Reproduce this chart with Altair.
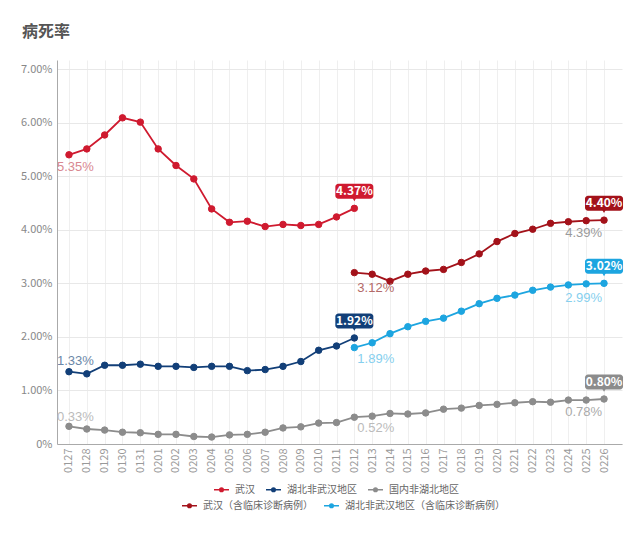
import altair as alt
import pandas as pd

dates = ["0127", "0128", "0129", "0130", "0131", "0201", "0202", "0203", "0204",
         "0205", "0206", "0207", "0208", "0209", "0210", "0211", "0212", "0213",
         "0214", "0215", "0216", "0217", "0218", "0219", "0220", "0221", "0222",
         "0223", "0224", "0225", "0226"]

series_a = ["武汉", "湖北非武汉地区", "国内非湖北地区"]
series_b = ["武汉（含临床诊断病例）", "湖北非武汉地区（含临床诊断病例）"]
colors_a = ["#cf1a2f", "#123f78", "#8c8c8c"]
colors_b = ["#a3121a", "#1da5e0"]

# 0127 - 0212
wuhan = [5.40, 5.51, 5.77, 6.09, 6.01, 5.51, 5.20, 4.95, 4.39, 4.14, 4.16, 4.06,
         4.10, 4.08, 4.10, 4.24, 4.40]
hubei = [1.35, 1.31, 1.47, 1.47, 1.49, 1.45, 1.45, 1.43, 1.45, 1.45, 1.37, 1.39,
         1.45, 1.54, 1.75, 1.83, 1.98]
# 0127 - 0226
nonhubei = [0.33, 0.28, 0.26, 0.22, 0.21, 0.18, 0.18, 0.14, 0.13, 0.17, 0.18, 0.22,
            0.30, 0.32, 0.39, 0.40, 0.50, 0.52, 0.57, 0.56, 0.58, 0.65, 0.67, 0.72,
            0.74, 0.77, 0.79, 0.78, 0.82, 0.82, 0.84]
# 0212 - 0226
wuhan_clin = [3.20, 3.17, 3.04, 3.17, 3.23, 3.26, 3.39, 3.55, 3.78, 3.93, 4.01,
              4.12, 4.15, 4.17, 4.18]
hubei_clin = [1.80, 1.89, 2.06, 2.19, 2.29, 2.35, 2.48, 2.62, 2.72, 2.78, 2.87,
              2.93, 2.97, 2.99, 3.00]

callout_texts = ["4.37%", "1.92%", "0.80%", "4.40%", "3.02%"]
note_texts = ["5.35%", "1.33%", "0.33%", "3.12%", "1.89%", "0.52%", "4.39%", "2.99%", "0.78%"]

rows = []
for name, vals, start in [(series_a[0], wuhan, 0), (series_a[1], hubei, 0),
                          (series_a[2], nonhubei, 0), (series_b[0], wuhan_clin, 16),
                          (series_b[1], hubei_clin, 16)]:
    for i, v in enumerate(vals):
        rows.append({"date": dates[start + i], "value": v, "series": name})
df = pd.DataFrame(rows)
dfA = df[df.series.isin(series_a)]
dfB = df[df.series.isin(series_b)]

xenc = alt.X("date:N", sort=dates,
             scale=alt.Scale(type="point", domain=dates, padding=0.84, align=0.4),
             axis=alt.Axis(title=None, labelAngle=270, labelFontSize=11, labelColor="#999",
                           labelPadding=4, ticks=False, domainColor="#aaa",
                           grid=True, gridColor="#efefef", labelBaseline="middle",
                           labelAlign="right"))
yenc = alt.Y("value:Q", scale=alt.Scale(domain=[0, 7.17], nice=False),
             axis=alt.Axis(title=None, values=[0, 1, 2, 3, 4, 5, 6, 7],
                           labelExpr="datum.value == 0 ? '0%' : format(datum.value, '.2f') + '%'",
                           labelFontSize=11, labelColor="#888", ticks=False,
                           domainColor="#aaa", gridColor="#e8e8e8", labelPadding=5))

sym = "M-1,0L1,0M-0.24,0A0.24,0.24,0,1,0,0.24,0A0.24,0.24,0,1,0,-0.24,0Z"


def legend(x, y):
    return alt.Legend(title=None, orient="none", legendX=x, legendY=y, direction="horizontal",
                      symbolType=sym, symbolSize=225, symbolStrokeWidth=1.5,
                      labelFontSize=10, labelColor="#666", columnPadding=8, labelOffset=5,
                      padding=0)


def group(data, names, cols, lx, ly):
    sc = alt.Scale(domain=names, range=cols)
    lg = legend(lx, ly)
    line = alt.Chart(data).mark_line(strokeWidth=1.8).encode(
        x=xenc, y=yenc, stroke=alt.Stroke("series:N", scale=sc, legend=lg),
        detail="series:N")
    pts = alt.Chart(data).mark_point(filled=True, size=42, opacity=1, strokeWidth=1).encode(
        x=xenc, y=yenc, stroke=alt.Stroke("series:N", scale=sc, legend=lg),
        fill=alt.Fill("series:N", scale=sc, legend=lg))
    return alt.layer(line, pts)


gA = group(dfA, series_a, colors_a, 156, 421)
gB = group(dfB, series_b, colors_b, 124, 437)

# callouts at the last point of each series
call_rows = []
for name, vals, start, txt, col in [
        (series_a[0], wuhan, 0, callout_texts[0], colors_a[0]),
        (series_a[1], hubei, 0, callout_texts[1], colors_a[1]),
        (series_a[2], nonhubei, 0, callout_texts[2], colors_a[2]),
        (series_b[0], wuhan_clin, 16, callout_texts[3], colors_b[0]),
        (series_b[1], hubei_clin, 16, callout_texts[4], colors_b[1])]:
    call_rows.append({"date": dates[start + len(vals) - 1], "value": vals[-1],
                      "label": txt, "col": col})
cdf = pd.DataFrame(call_rows)

boxes = alt.Chart(cdf).mark_rect(width=38, height=15, cornerRadius=3, yOffset=-17).encode(
    x=xenc, y=yenc, fill=alt.Fill("col:N", scale=None, legend=None))
tri = alt.Chart(cdf).mark_point(shape="triangle-down", filled=True, size=18, yOffset=-9,
                                opacity=1).encode(
    x=xenc, y=yenc, fill=alt.Fill("col:N", scale=None, legend=None))
ctext = alt.Chart(cdf).mark_text(color="white", fontWeight="bold", fontSize=12, dy=-17,
                                 baseline="middle").encode(x=xenc, y=yenc, text="label:N")

# plain value notes
notes = [
    (note_texts[0], dates[0], wuhan[0], "#d98891", "left", -12, 12),
    (note_texts[1], dates[0], hubei[0], "#6b87a8", "left", -12, -11),
    (note_texts[2], dates[0], nonhubei[0], "#bbbbbb", "left", -12, -9),
    (note_texts[3], dates[16], wuhan_clin[0], "#b36a68", "left", 3, 15),
    (note_texts[4], dates[16], hubei_clin[0], "#86cfee", "left", 3, 11),
    (note_texts[5], dates[16], nonhubei[16], "#bbbbbb", "left", 3, 11),
    (note_texts[6], dates[30], wuhan_clin[-1], "#9a9a9a", "right", -2, 13),
    (note_texts[7], dates[30], hubei_clin[-1], "#86cfee", "right", -2, 15),
    (note_texts[8], dates[30], nonhubei[-1], "#aaaaaa", "right", -2, 13),
]
note_layers = []
for txt, d, v, col, al, dx, dy in notes:
    ndf = pd.DataFrame([{"date": d, "value": v, "label": txt}])
    note_layers.append(alt.Chart(ndf).mark_text(color=col, align=al, dx=dx, dy=dy,
                                                fontSize=13, baseline="middle",
                                                font="Liberation Sans").encode(
        x=xenc, y=yenc, text="label:N"))

chart = alt.layer(gA, gB, *note_layers, boxes, tri, ctext).resolve_scale(
    stroke="independent", fill="independent").properties(
    width=565, height=384,
    autosize=alt.AutoSizeParams(type="none"),
    padding={"left": 49, "top": 52, "right": 10, "bottom": 80},
    title=alt.TitleParams("病死率", anchor="start", frame="group", dx=-35, offset=20,
                          fontSize=16, fontWeight="bold", color="#555"),
).configure(font="Noto Sans CJK SC").configure_view(strokeWidth=0)

chart.save("out.html", embed_options={"renderer": "svg", "actions": False})
